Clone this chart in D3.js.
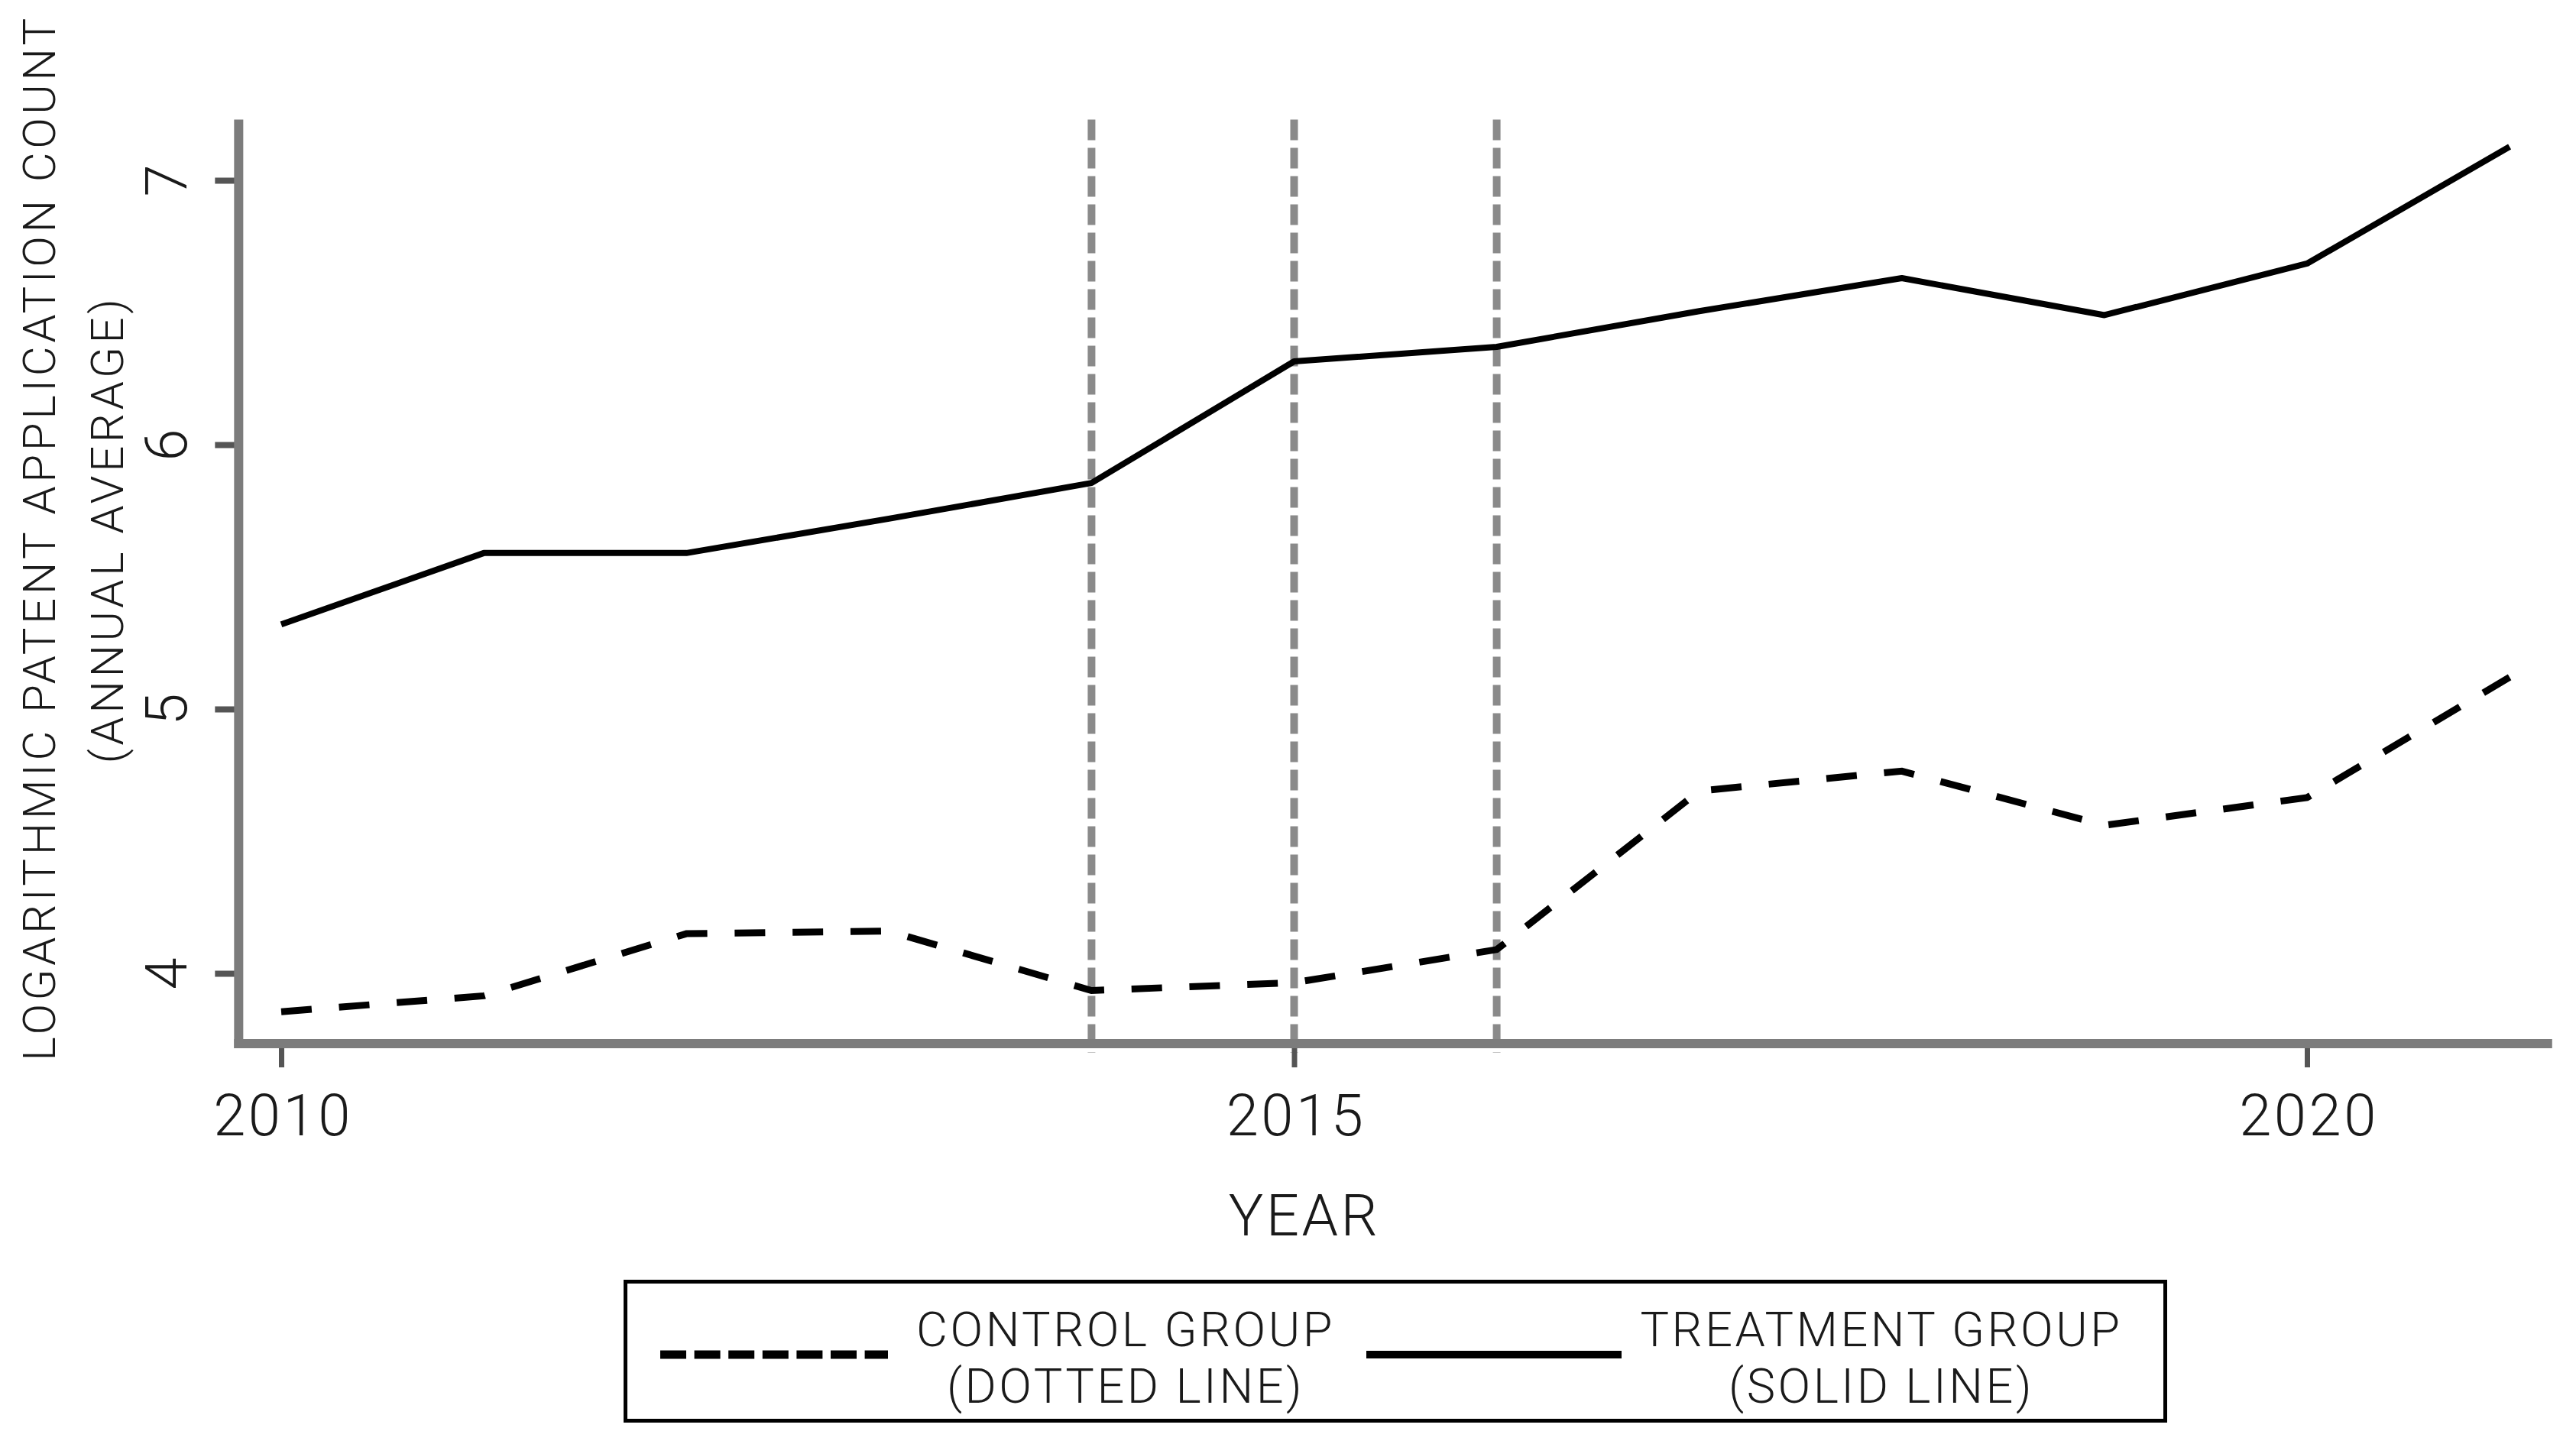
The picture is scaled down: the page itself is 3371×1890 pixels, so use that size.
<!DOCTYPE html>
<html>
<head>
<meta charset="utf-8">
<script src="https://cdn.jsdelivr.net/npm/d3@7"></script>
<style>
  body { margin: 0; background: #fff; }
  svg { display: block; }
  text { font-family: "Roboto", "Liberation Sans", sans-serif; font-weight: 300; fill: #1a1a1a; }
</style>
</head>
<body>
<script>
// chart values
var years = [2010, 2011, 2012, 2013, 2014, 2015, 2016, 2017, 2018, 2019, 2020, 2021];
var treatment = [5.32, 5.59, 5.59, 5.72, 5.855, 6.315, 6.37, 6.505, 6.63, 6.49, 6.685, 7.127];
var control = [3.855, 3.915, 4.15, 4.16, 3.935, 3.965, 4.09, 4.69, 4.765, 4.56, 4.665, 5.12];
var eventYears = [2014, 2015, 2016];
var xTicks = [2010, 2015, 2020];
var yTicks = [4, 5, 6, 7];

var width = 3371,
    height = 1890;

var svg = d3.select("body").append("svg")
    .attr("width", width)
    .attr("height", height);

// scales
var x = d3.scaleLinear().domain([2010, 2020]).range([368, 3019]);
var y = d3.scaleLinear().domain([4, 7]).range([1274, 236]);

var xMin = 2009.79, xMax = 2021.21,
    yMin = 3.734, yMax = 7.23;

// vertical dashed reference lines
svg.selectAll(".event")
    .data(eventYears)
    .enter().append("line")
    .attr("class", "event")
    .attr("x1", function(d) { return x(d); })
    .attr("x2", function(d) { return x(d); })
    .attr("y1", y(yMax))
    .attr("y2", y(yMin) + 12)
    .attr("stroke", "#8a8a8a")
    .attr("stroke-width", 10)
    .attr("stroke-dasharray", "27,10");

// x axis
var xAxis = d3.axisBottom(x)
    .tickValues(xTicks)
    .tickFormat(d3.format("d"))
    .tickSizeInner(31)
    .tickSizeOuter(0)
    .tickPadding(35);

var gx = svg.append("g")
    .attr("transform", "translate(0," + y(yMin) + ")")
    .call(xAxis);
gx.select(".domain").remove();
gx.selectAll(".tick line").attr("stroke", "#555").attr("stroke-width", 7);
gx.selectAll(".tick text")
    .attr("dx", 2)
    .style("font-size", "76px")
    .style("letter-spacing", "3.5px");

// y axis
var yAxis = d3.axisLeft(y)
    .tickValues(yTicks)
    .tickFormat(d3.format("d"))
    .tickSizeInner(31)
    .tickSizeOuter(0);

var gy = svg.append("g")
    .attr("transform", "translate(" + x(xMin) + ",0)")
    .call(yAxis);
gy.select(".domain").remove();
gy.selectAll(".tick line").attr("stroke", "#555").attr("stroke-width", 8);
gy.selectAll(".tick text")
    .attr("x", null)
    .attr("dy", null)
    .attr("text-anchor", "middle")
    .attr("transform", "translate(-68,0) rotate(-90)")
    .style("font-size", "76px");

// axis lines
svg.append("line")
    .attr("x1", x(xMin) - 6).attr("x2", x(xMax))
    .attr("y1", y(yMin)).attr("y2", y(yMin))
    .attr("stroke", "#7c7c7c").attr("stroke-width", 12);
svg.append("line")
    .attr("x1", x(xMin)).attr("x2", x(xMin))
    .attr("y1", y(yMax)).attr("y2", y(yMin) + 6)
    .attr("stroke", "#7c7c7c").attr("stroke-width", 12);

// data lines
var line = d3.line()
    .x(function(d) { return x(d[0]); })
    .y(function(d) { return y(d[1]); });

var controlPath = svg.append("path")
    .datum(d3.zip(years, control))
    .attr("d", line)
    .attr("fill", "none")
    .attr("stroke", "#000")
    .attr("stroke-width", 9);

// stretch the dash gap a little so the line starts and ends on a dash
var dashLen = 40,
    pathLen = controlPath.node().getTotalLength(),
    nDash = Math.round((pathLen - dashLen) / 75),
    period = (pathLen - dashLen) / nDash;
controlPath.attr("stroke-dasharray", dashLen + "," + (period - dashLen));

svg.append("path")
    .datum(d3.zip(years, treatment))
    .attr("d", line)
    .attr("fill", "none")
    .attr("stroke", "#000")
    .attr("stroke-width", 8)
    .attr("stroke-linejoin", "round");

// axis titles
svg.append("text")
    .attr("x", 1707).attr("y", 1617)
    .attr("text-anchor", "middle")
    .style("font-size", "76px")
    .style("letter-spacing", "3.5px")
    .text("YEAR");

svg.append("text")
    .attr("text-anchor", "middle")
    .attr("transform", "translate(72,704) rotate(-90)")
    .style("font-size", "60px")
    .style("letter-spacing", "4.5px")
    .text("LOGARITHMIC PATENT APPLICATION COUNT");
svg.append("text")
    .attr("text-anchor", "middle")
    .attr("transform", "translate(161,693) rotate(-90)")
    .style("font-size", "60px")
    .style("letter-spacing", "4.5px")
    .text("(ANNUAL AVERAGE)");

// legend
var legend = svg.append("g");
legend.append("rect")
    .attr("x", 818.5).attr("y", 1677.5)
    .attr("width", 2015).attr("height", 182)
    .attr("fill", "none")
    .attr("stroke", "#000")
    .attr("stroke-width", 5);

legend.append("line")
    .attr("x1", 864).attr("x2", 1162)
    .attr("y1", 1773).attr("y2", 1773)
    .attr("stroke", "#000").attr("stroke-width", 11)
    .attr("stroke-dasharray", "34,10.6");
legend.append("line")
    .attr("x1", 1788).attr("x2", 2122)
    .attr("y1", 1773).attr("y2", 1773)
    .attr("stroke", "#000").attr("stroke-width", 10);

var legendText = [
    { x: 1473, lines: ["CONTROL GROUP", "(DOTTED LINE)"] },
    { x: 2462, lines: ["TREATMENT GROUP", "(SOLID LINE)"] }
];
legendText.forEach(function(d) {
    d.lines.forEach(function(t, i) {
        legend.append("text")
            .attr("x", d.x)
            .attr("y", i === 0 ? 1762 : 1836)
            .attr("text-anchor", "middle")
            .style("font-size", "63px")
            .style("letter-spacing", "3.5px")
            .text(t);
    });
});
</script>
</body>
</html>
